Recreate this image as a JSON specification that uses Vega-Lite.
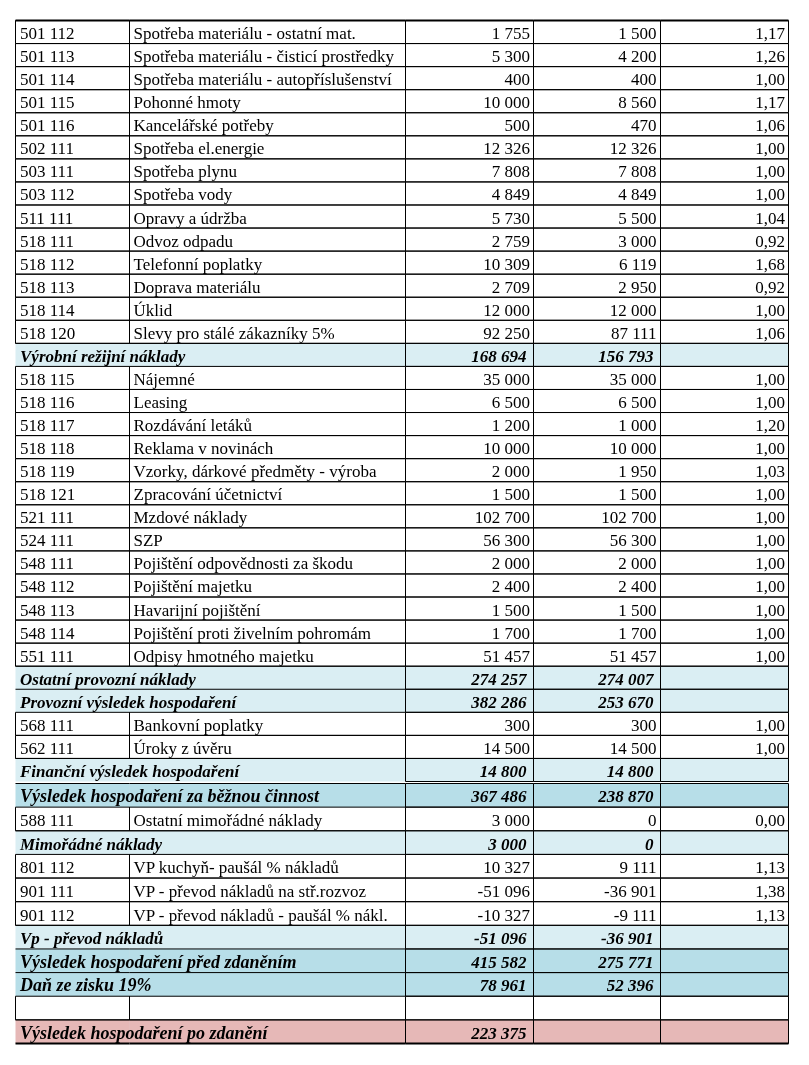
{
"$schema": "https://vega.github.io/schema/vega-lite/v6.json",
"background": "white",
"padding": {"left": 14.5, "top": 19.5, "right": 0, "bottom": 0},
"spacing": 0,
"config": {
  "view": {"stroke": null},
  "axis": {"labels": false, "ticks": false, "title": null, "domain": false, "grid": false},
  "locale": {"number": {"decimal": ",", "thousands": " ", "grouping": [3], "currency": ["", ""], "minus": "-"}}
},
"data": {"values": [
{"i":1,"t":"n","code":"501 112","name":"Spotřeba materiálu - ostatní mat.","v1":1755,"v2":1500,"r":1.17},
{"i":2,"t":"n","code":"501 113","name":"Spotřeba materiálu - čisticí prostředky","v1":5300,"v2":4200,"r":1.26},
{"i":3,"t":"n","code":"501 114","name":"Spotřeba materiálu - autopříslušenství","v1":400,"v2":400,"r":1.00},
{"i":4,"t":"n","code":"501 115","name":"Pohonné hmoty","v1":10000,"v2":8560,"r":1.17},
{"i":5,"t":"n","code":"501 116","name":"Kancelářské potřeby","v1":500,"v2":470,"r":1.06},
{"i":6,"t":"n","code":"502 111","name":"Spotřeba el.energie","v1":12326,"v2":12326,"r":1.00},
{"i":7,"t":"n","code":"503 111","name":"Spotřeba plynu","v1":7808,"v2":7808,"r":1.00},
{"i":8,"t":"n","code":"503 112","name":"Spotřeba vody","v1":4849,"v2":4849,"r":1.00},
{"i":9,"t":"n","code":"511 111","name":"Opravy a údržba","v1":5730,"v2":5500,"r":1.04},
{"i":10,"t":"n","code":"518 111","name":"Odvoz odpadu","v1":2759,"v2":3000,"r":0.92},
{"i":11,"t":"n","code":"518 112","name":"Telefonní poplatky","v1":10309,"v2":6119,"r":1.68},
{"i":12,"t":"n","code":"518 113","name":"Doprava materiálu","v1":2709,"v2":2950,"r":0.92},
{"i":13,"t":"n","code":"518 114","name":"Úklid","v1":12000,"v2":12000,"r":1.00},
{"i":14,"t":"n","code":"518 120","name":"Slevy pro stálé zákazníky 5%","v1":92250,"v2":87111,"r":1.06},
{"i":15,"t":"s","code":"","name":"Výrobní režijní náklady","v1":168694,"v2":156793,"r":null},
{"i":16,"t":"n","code":"518 115","name":"Nájemné","v1":35000,"v2":35000,"r":1.00},
{"i":17,"t":"n","code":"518 116","name":"Leasing","v1":6500,"v2":6500,"r":1.00},
{"i":18,"t":"n","code":"518 117","name":"Rozdávání letáků","v1":1200,"v2":1000,"r":1.20},
{"i":19,"t":"n","code":"518 118","name":"Reklama v novinách","v1":10000,"v2":10000,"r":1.00},
{"i":20,"t":"n","code":"518 119","name":"Vzorky, dárkové předměty - výroba","v1":2000,"v2":1950,"r":1.03},
{"i":21,"t":"n","code":"518 121","name":"Zpracování účetnictví","v1":1500,"v2":1500,"r":1.00},
{"i":22,"t":"n","code":"521 111","name":"Mzdové náklady","v1":102700,"v2":102700,"r":1.00},
{"i":23,"t":"n","code":"524 111","name":"SZP","v1":56300,"v2":56300,"r":1.00},
{"i":24,"t":"n","code":"548 111","name":"Pojištění odpovědnosti za škodu","v1":2000,"v2":2000,"r":1.00},
{"i":25,"t":"n","code":"548 112","name":"Pojištění majetku","v1":2400,"v2":2400,"r":1.00},
{"i":26,"t":"n","code":"548 113","name":"Havarijní pojištění","v1":1500,"v2":1500,"r":1.00},
{"i":27,"t":"n","code":"548 114","name":"Pojištění proti živelním pohromám","v1":1700,"v2":1700,"r":1.00},
{"i":28,"t":"n","code":"551 111","name":"Odpisy hmotného majetku","v1":51457,"v2":51457,"r":1.00},
{"i":29,"t":"s","code":"","name":"Ostatní provozní náklady","v1":274257,"v2":274007,"r":null},
{"i":30,"t":"s","code":"","name":"Provozní výsledek hospodaření","v1":382286,"v2":253670,"r":null},
{"i":31,"t":"n","code":"568 111","name":"Bankovní poplatky","v1":300,"v2":300,"r":1.00},
{"i":32,"t":"n","code":"562 111","name":"Úroky z úvěru","v1":14500,"v2":14500,"r":1.00},
{"i":33,"t":"s","code":"","name":"Finanční výsledek hospodaření","v1":14800,"v2":14800,"r":null},
{"i":34,"t":"b","code":"","name":"Výsledek hospodaření za běžnou činnost","v1":367486,"v2":238870,"r":null},
{"i":35,"t":"n","code":"588 111","name":"Ostatní mimořádné náklady","v1":3000,"v2":0,"r":0.00},
{"i":36,"t":"s","code":"","name":"Mimořádné náklady","v1":3000,"v2":0,"r":null},
{"i":37,"t":"n","code":"801 112","name":"VP kuchyň- paušál % nákladů","v1":10327,"v2":9111,"r":1.13},
{"i":38,"t":"n","code":"901 111","name":"VP - převod nákladů na stř.rozvoz","v1":-51096,"v2":-36901,"r":1.38},
{"i":39,"t":"n","code":"901 112","name":"VP - převod nákladů - paušál % nákl.","v1":-10327,"v2":-9111,"r":1.13},
{"i":40,"t":"s","code":"","name":"Vp - převod nákladů","v1":-51096,"v2":-36901,"r":null},
{"i":41,"t":"c","code":"","name":"Výsledek hospodaření před zdaněním","v1":415582,"v2":275771,"r":null},
{"i":42,"t":"c","code":"","name":"Daň ze zisku 19%","v1":78961,"v2":52396,"r":null},
{"i":43,"t":"n","code":"","name":"","v1":null,"v2":null,"r":null},
{"i":44,"t":"p","code":"","name":"Výsledek hospodaření po zdanění","v1":223375,"v2":null,"r":null}
]},
"vconcat": [
{
"transform": [{"filter": "datum.i<=33"}],
"spacing": 0,
"bounds": "flush",
"hconcat": [
{
 "width": 114, "height": 761,
 "encoding": {"y": {"field": "i", "type": "ordinal", "scale": {"paddingInner": 0, "paddingOuter": 0}, "axis": {"orient": "left", "domain": true, "domainColor": "#000", "domainWidth": 2}}},
 "layer": [
  {"mark": {"type": "rect"}, "encoding": {"fill": {"field": "t", "type": "nominal", "scale": {"domain": ["n","s","b","c","p"], "range": ["#ffffff","#daeef3","#b7dee8","#b7dee8","#e6b8b7"]}, "legend": null}}},
  {"transform": [{"filter": "datum.t=='n'"}], "mark": {"type": "rect", "fillOpacity": 0, "stroke": "#000", "strokeWidth": 1}},
  {"transform": [{"filter": "datum.t!='n'"}], "mark": {"type": "rule", "color": "#000", "strokeWidth": 1}, "encoding": {"y": {"field": "i", "type": "ordinal", "bandPosition": 0, "axis": null}}},
  {"transform": [{"filter": "datum.i==1"}], "mark": {"type": "rule", "color": "#000", "strokeWidth": 2}, "encoding": {"y": {"field": "i", "type": "ordinal", "bandPosition": 0, "axis": null}}},
  {"transform": [{"filter": "datum.t=='n'"}], "mark": {"type": "text", "align": "left", "baseline": "alphabetic", "dx": 4.5, "dy": 7, "font": "Liberation Serif", "fontSize": 17, "color": "#000"},
   "encoding": {"x": {"datum": "code", "type": "nominal", "bandPosition": 0, "scale": {"type": "band", "paddingInner": 0, "paddingOuter": 0}, "axis": null}, "text": {"field": "code"}}},
  {"transform": [{"filter": "datum.t=='s'"}], "mark": {"type": "text", "align": "left", "baseline": "alphabetic", "dx": 4.5, "dy": 7, "font": "Liberation Serif", "fontSize": 17, "fontStyle": "italic", "fontWeight": "bold", "color": "#000"},
   "encoding": {"x": {"datum": "code", "type": "nominal", "bandPosition": 0, "scale": {"type": "band", "paddingInner": 0, "paddingOuter": 0}, "axis": null}, "text": {"field": "name"}}}
 ]
},
{
 "width": 276, "height": 761,
 "encoding": {"y": {"field": "i", "type": "ordinal", "scale": {"paddingInner": 0, "paddingOuter": 0}, "axis": null}},
 "layer": [
  {"mark": {"type": "rect", "blend": "multiply"}, "encoding": {"fill": {"field": "t", "type": "nominal", "scale": {"domain": ["n","s","b","c","p"], "range": ["#ffffff","#daeef3","#b7dee8","#b7dee8","#e6b8b7"]}, "legend": null}}},
  {"transform": [{"filter": "datum.t=='n'"}], "mark": {"type": "rect", "fillOpacity": 0, "stroke": "#000", "strokeWidth": 1}},
  {"transform": [{"filter": "datum.t!='n'"}], "mark": {"type": "rule", "color": "#000", "strokeWidth": 1}, "encoding": {"y": {"field": "i", "type": "ordinal", "bandPosition": 0, "axis": null}}},
  {"transform": [{"filter": "datum.i==1"}], "mark": {"type": "rule", "color": "#000", "strokeWidth": 2}, "encoding": {"y": {"field": "i", "type": "ordinal", "bandPosition": 0, "axis": null}}},
  {"transform": [{"filter": "datum.t=='n'"}], "mark": {"type": "text", "align": "left", "baseline": "alphabetic", "dx": 4, "dy": 7, "font": "Liberation Serif", "fontSize": 17, "color": "#000"},
   "encoding": {"x": {"datum": "name", "type": "nominal", "bandPosition": 0, "scale": {"type": "band", "paddingInner": 0, "paddingOuter": 0}, "axis": null}, "text": {"field": "name"}}}
 ]
},
{
 "width": 128, "height": 761,
 "encoding": {"y": {"field": "i", "type": "ordinal", "scale": {"paddingInner": 0, "paddingOuter": 0}, "axis": null}},
 "layer": [
  {"mark": {"type": "rect"}, "encoding": {"fill": {"field": "t", "type": "nominal", "scale": {"domain": ["n","s","b","c","p"], "range": ["#ffffff","#daeef3","#b7dee8","#b7dee8","#e6b8b7"]}, "legend": null}}},
  {"mark": {"type": "rect", "fillOpacity": 0, "stroke": "#000", "strokeWidth": 1}},
  {"transform": [{"filter": "datum.i==1"}], "mark": {"type": "rule", "color": "#000", "strokeWidth": 2}, "encoding": {"y": {"field": "i", "type": "ordinal", "bandPosition": 0, "axis": null}}},
  {"transform": [{"filter": "datum.t=='n' && isValid(datum.v1)"}], "mark": {"type": "text", "align": "right", "baseline": "alphabetic", "dx": -3.5, "dy": 7, "font": "Liberation Serif", "fontSize": 17, "color": "#000"},
   "encoding": {"x": {"datum": "v1", "type": "nominal", "bandPosition": 1, "scale": {"type": "band", "paddingInner": 0, "paddingOuter": 0}, "axis": null}, "text": {"field": "v1", "type": "quantitative", "format": ",.0f"}}},
  {"transform": [{"filter": "datum.t!='n' && isValid(datum.v1)"}], "mark": {"type": "text", "align": "right", "baseline": "alphabetic", "dx": -7, "dy": 7, "font": "Liberation Serif", "fontSize": 17, "fontStyle": "italic", "fontWeight": "bold", "color": "#000"},
   "encoding": {"x": {"datum": "v1", "type": "nominal", "bandPosition": 1, "scale": {"type": "band", "paddingInner": 0, "paddingOuter": 0}, "axis": null}, "text": {"field": "v1", "type": "quantitative", "format": ",.0f"}}}
 ]
},
{
 "width": 127, "height": 761,
 "encoding": {"y": {"field": "i", "type": "ordinal", "scale": {"paddingInner": 0, "paddingOuter": 0}, "axis": null}},
 "layer": [
  {"mark": {"type": "rect"}, "encoding": {"fill": {"field": "t", "type": "nominal", "scale": {"domain": ["n","s","b","c","p"], "range": ["#ffffff","#daeef3","#b7dee8","#b7dee8","#e6b8b7"]}, "legend": null}}},
  {"mark": {"type": "rect", "fillOpacity": 0, "stroke": "#000", "strokeWidth": 1}},
  {"transform": [{"filter": "datum.i==1"}], "mark": {"type": "rule", "color": "#000", "strokeWidth": 2}, "encoding": {"y": {"field": "i", "type": "ordinal", "bandPosition": 0, "axis": null}}},
  {"transform": [{"filter": "datum.t=='n' && isValid(datum.v2)"}], "mark": {"type": "text", "align": "right", "baseline": "alphabetic", "dx": -4, "dy": 7, "font": "Liberation Serif", "fontSize": 17, "color": "#000"},
   "encoding": {"x": {"datum": "v2", "type": "nominal", "bandPosition": 1, "scale": {"type": "band", "paddingInner": 0, "paddingOuter": 0}, "axis": null}, "text": {"field": "v2", "type": "quantitative", "format": ",.0f"}}},
  {"transform": [{"filter": "datum.t!='n' && isValid(datum.v2)"}], "mark": {"type": "text", "align": "right", "baseline": "alphabetic", "dx": -7, "dy": 7, "font": "Liberation Serif", "fontSize": 17, "fontStyle": "italic", "fontWeight": "bold", "color": "#000"},
   "encoding": {"x": {"datum": "v2", "type": "nominal", "bandPosition": 1, "scale": {"type": "band", "paddingInner": 0, "paddingOuter": 0}, "axis": null}, "text": {"field": "v2", "type": "quantitative", "format": ",.0f"}}}
 ]
},
{
 "width": 128, "height": 761,
 "encoding": {"y": {"field": "i", "type": "ordinal", "scale": {"paddingInner": 0, "paddingOuter": 0}, "axis": {"orient": "right", "domain": true, "domainColor": "#000", "domainWidth": 2}}},
 "layer": [
  {"mark": {"type": "rect"}, "encoding": {"fill": {"field": "t", "type": "nominal", "scale": {"domain": ["n","s","b","c","p"], "range": ["#ffffff","#daeef3","#b7dee8","#b7dee8","#e6b8b7"]}, "legend": null}}},
  {"mark": {"type": "rect", "fillOpacity": 0, "stroke": "#000", "strokeWidth": 1}},
  {"transform": [{"filter": "datum.i==1"}], "mark": {"type": "rule", "color": "#000", "strokeWidth": 2}, "encoding": {"y": {"field": "i", "type": "ordinal", "bandPosition": 0, "axis": null}}},
  {"transform": [{"filter": "datum.t=='n' && isValid(datum.r)"}], "mark": {"type": "text", "align": "right", "baseline": "alphabetic", "dx": -3.5, "dy": 7, "font": "Liberation Serif", "fontSize": 17, "color": "#000"},
   "encoding": {"x": {"datum": "r", "type": "nominal", "bandPosition": 1, "scale": {"type": "band", "paddingInner": 0, "paddingOuter": 0}, "axis": null}, "text": {"field": "r", "type": "quantitative", "format": ".2f"}}}
 ]
}
]
},
{
"transform": [{"filter": "datum.i>=34"}],
"spacing": 0,
"bounds": "flush",
"hconcat": [
{
 "width": 114, "height": 260,
 "encoding": {"y": {"field": "i", "type": "ordinal", "scale": {"paddingInner": 0, "paddingOuter": 0}, "axis": {"orient": "left", "domain": true, "domainColor": "#000", "domainWidth": 2}}},
 "layer": [
  {"mark": {"type": "rect"}, "encoding": {"fill": {"field": "t", "type": "nominal", "scale": {"domain": ["n","s","b","c","p"], "range": ["#ffffff","#daeef3","#b7dee8","#b7dee8","#e6b8b7"]}, "legend": null}}},
  {"transform": [{"filter": "datum.t=='n'"}], "mark": {"type": "rect", "fillOpacity": 0, "stroke": "#000", "strokeWidth": 1}},
  {"transform": [{"filter": "datum.t!='n'"}], "mark": {"type": "rule", "color": "#000", "strokeWidth": 1}, "encoding": {"y": {"field": "i", "type": "ordinal", "bandPosition": 0, "axis": null}}},
  {"transform": [{"filter": "datum.i==44"}], "mark": {"type": "rule", "color": "#000", "strokeWidth": 2}, "encoding": {"y": {"field": "i", "type": "ordinal", "bandPosition": 1, "axis": null}}},
  {"transform": [{"filter": "datum.t=='n'"}], "mark": {"type": "text", "align": "left", "baseline": "alphabetic", "dx": 4.5, "dy": 7, "font": "Liberation Serif", "fontSize": 17, "color": "#000"},
   "encoding": {"x": {"datum": "code", "type": "nominal", "bandPosition": 0, "scale": {"type": "band", "paddingInner": 0, "paddingOuter": 0}, "axis": null}, "text": {"field": "code"}}},
  {"transform": [{"filter": "datum.t=='s'"}], "mark": {"type": "text", "align": "left", "baseline": "alphabetic", "dx": 4.5, "dy": 7, "font": "Liberation Serif", "fontSize": 17, "fontStyle": "italic", "fontWeight": "bold", "color": "#000"},
   "encoding": {"x": {"datum": "code", "type": "nominal", "bandPosition": 0, "scale": {"type": "band", "paddingInner": 0, "paddingOuter": 0}, "axis": null}, "text": {"field": "name"}}},
  {"transform": [{"filter": "datum.t=='b'||datum.t=='c'||datum.t=='p'"}], "mark": {"type": "text", "align": "left", "baseline": "alphabetic", "dx": 4.5, "dy": 7, "font": "Liberation Serif", "fontSize": 18, "fontStyle": "italic", "fontWeight": "bold", "color": "#000"},
   "encoding": {"x": {"datum": "code", "type": "nominal", "bandPosition": 0, "scale": {"type": "band", "paddingInner": 0, "paddingOuter": 0}, "axis": null}, "text": {"field": "name"}}}
 ]
},
{
 "width": 276, "height": 260,
 "encoding": {"y": {"field": "i", "type": "ordinal", "scale": {"paddingInner": 0, "paddingOuter": 0}, "axis": null}},
 "layer": [
  {"mark": {"type": "rect", "blend": "multiply"}, "encoding": {"fill": {"field": "t", "type": "nominal", "scale": {"domain": ["n","s","b","c","p"], "range": ["#ffffff","#daeef3","#b7dee8","#b7dee8","#e6b8b7"]}, "legend": null}}},
  {"transform": [{"filter": "datum.t=='n'"}], "mark": {"type": "rect", "fillOpacity": 0, "stroke": "#000", "strokeWidth": 1}},
  {"transform": [{"filter": "datum.t!='n'"}], "mark": {"type": "rule", "color": "#000", "strokeWidth": 1}, "encoding": {"y": {"field": "i", "type": "ordinal", "bandPosition": 0, "axis": null}}},
  {"transform": [{"filter": "datum.i==44"}], "mark": {"type": "rule", "color": "#000", "strokeWidth": 2}, "encoding": {"y": {"field": "i", "type": "ordinal", "bandPosition": 1, "axis": null}}},
  {"transform": [{"filter": "datum.t=='n'"}], "mark": {"type": "text", "align": "left", "baseline": "alphabetic", "dx": 4, "dy": 7, "font": "Liberation Serif", "fontSize": 17, "color": "#000"},
   "encoding": {"x": {"datum": "name", "type": "nominal", "bandPosition": 0, "scale": {"type": "band", "paddingInner": 0, "paddingOuter": 0}, "axis": null}, "text": {"field": "name"}}}
 ]
},
{
 "width": 128, "height": 260,
 "encoding": {"y": {"field": "i", "type": "ordinal", "scale": {"paddingInner": 0, "paddingOuter": 0}, "axis": null}},
 "layer": [
  {"mark": {"type": "rect"}, "encoding": {"fill": {"field": "t", "type": "nominal", "scale": {"domain": ["n","s","b","c","p"], "range": ["#ffffff","#daeef3","#b7dee8","#b7dee8","#e6b8b7"]}, "legend": null}}},
  {"mark": {"type": "rect", "fillOpacity": 0, "stroke": "#000", "strokeWidth": 1}},
  {"transform": [{"filter": "datum.i==44"}], "mark": {"type": "rule", "color": "#000", "strokeWidth": 2}, "encoding": {"y": {"field": "i", "type": "ordinal", "bandPosition": 1, "axis": null}}},
  {"transform": [{"filter": "datum.t=='n' && isValid(datum.v1)"}], "mark": {"type": "text", "align": "right", "baseline": "alphabetic", "dx": -3.5, "dy": 7, "font": "Liberation Serif", "fontSize": 17, "color": "#000"},
   "encoding": {"x": {"datum": "v1", "type": "nominal", "bandPosition": 1, "scale": {"type": "band", "paddingInner": 0, "paddingOuter": 0}, "axis": null}, "text": {"field": "v1", "type": "quantitative", "format": ",.0f"}}},
  {"transform": [{"filter": "datum.t!='n' && isValid(datum.v1)"}], "mark": {"type": "text", "align": "right", "baseline": "alphabetic", "dx": -7, "dy": 7, "font": "Liberation Serif", "fontSize": 17, "fontStyle": "italic", "fontWeight": "bold", "color": "#000"},
   "encoding": {"x": {"datum": "v1", "type": "nominal", "bandPosition": 1, "scale": {"type": "band", "paddingInner": 0, "paddingOuter": 0}, "axis": null}, "text": {"field": "v1", "type": "quantitative", "format": ",.0f"}}}
 ]
},
{
 "width": 127, "height": 260,
 "encoding": {"y": {"field": "i", "type": "ordinal", "scale": {"paddingInner": 0, "paddingOuter": 0}, "axis": null}},
 "layer": [
  {"mark": {"type": "rect"}, "encoding": {"fill": {"field": "t", "type": "nominal", "scale": {"domain": ["n","s","b","c","p"], "range": ["#ffffff","#daeef3","#b7dee8","#b7dee8","#e6b8b7"]}, "legend": null}}},
  {"mark": {"type": "rect", "fillOpacity": 0, "stroke": "#000", "strokeWidth": 1}},
  {"transform": [{"filter": "datum.i==44"}], "mark": {"type": "rule", "color": "#000", "strokeWidth": 2}, "encoding": {"y": {"field": "i", "type": "ordinal", "bandPosition": 1, "axis": null}}},
  {"transform": [{"filter": "datum.t=='n' && isValid(datum.v2)"}], "mark": {"type": "text", "align": "right", "baseline": "alphabetic", "dx": -4, "dy": 7, "font": "Liberation Serif", "fontSize": 17, "color": "#000"},
   "encoding": {"x": {"datum": "v2", "type": "nominal", "bandPosition": 1, "scale": {"type": "band", "paddingInner": 0, "paddingOuter": 0}, "axis": null}, "text": {"field": "v2", "type": "quantitative", "format": ",.0f"}}},
  {"transform": [{"filter": "datum.t!='n' && isValid(datum.v2)"}], "mark": {"type": "text", "align": "right", "baseline": "alphabetic", "dx": -7, "dy": 7, "font": "Liberation Serif", "fontSize": 17, "fontStyle": "italic", "fontWeight": "bold", "color": "#000"},
   "encoding": {"x": {"datum": "v2", "type": "nominal", "bandPosition": 1, "scale": {"type": "band", "paddingInner": 0, "paddingOuter": 0}, "axis": null}, "text": {"field": "v2", "type": "quantitative", "format": ",.0f"}}}
 ]
},
{
 "width": 128, "height": 260,
 "encoding": {"y": {"field": "i", "type": "ordinal", "scale": {"paddingInner": 0, "paddingOuter": 0}, "axis": {"orient": "right", "domain": true, "domainColor": "#000", "domainWidth": 2}}},
 "layer": [
  {"mark": {"type": "rect"}, "encoding": {"fill": {"field": "t", "type": "nominal", "scale": {"domain": ["n","s","b","c","p"], "range": ["#ffffff","#daeef3","#b7dee8","#b7dee8","#e6b8b7"]}, "legend": null}}},
  {"mark": {"type": "rect", "fillOpacity": 0, "stroke": "#000", "strokeWidth": 1}},
  {"transform": [{"filter": "datum.i==44"}], "mark": {"type": "rule", "color": "#000", "strokeWidth": 2}, "encoding": {"y": {"field": "i", "type": "ordinal", "bandPosition": 1, "axis": null}}},
  {"transform": [{"filter": "datum.t=='n' && isValid(datum.r)"}], "mark": {"type": "text", "align": "right", "baseline": "alphabetic", "dx": -3.5, "dy": 7, "font": "Liberation Serif", "fontSize": 17, "color": "#000"},
   "encoding": {"x": {"datum": "r", "type": "nominal", "bandPosition": 1, "scale": {"type": "band", "paddingInner": 0, "paddingOuter": 0}, "axis": null}, "text": {"field": "r", "type": "quantitative", "format": ".2f"}}}
 ]
}
]
}
]
}
